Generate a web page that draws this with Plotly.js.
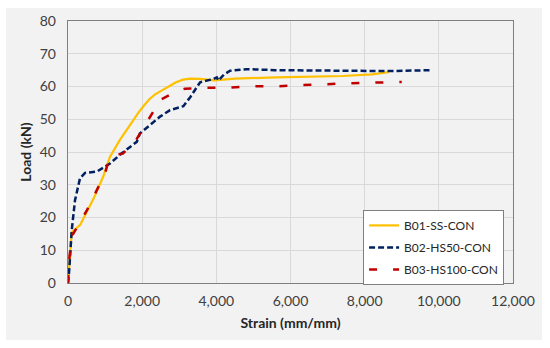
<!DOCTYPE html>
<html><head><meta charset="utf-8">
<script src="https://cdn.plot.ly/plotly-3.0.1.min.js"></script>
<style>
html,body{margin:0;padding:0;background:#fff;}
#wrap{position:relative;width:550px;height:348px;background:#fff;}
#bg{position:absolute;left:6px;top:8px;width:536px;height:332px;background:#f2f2f2;}
#chart{position:absolute;left:0;top:0;width:550px;height:348px;}
</style></head>
<body><div id="wrap"><div id="bg"></div><div id="chart"></div></div>
<script>
const b01Strain = [0, 30, 60, 100, 330, 700, 950, 1130, 1400, 1700, 1900, 2050, 2200, 2350, 2500, 2700, 2900, 3100, 3300, 3550, 3950, 4500, 5600, 7400, 8200, 8650];
const b01Load   = [0, 5, 10, 15.5, 17.8, 26, 32.5, 38.5, 43.7, 48.8, 52, 54.2, 56.2, 57.6, 58.6, 59.9, 61.2, 62.1, 62.4, 62.3, 61.9, 62.4, 62.8, 63.2, 63.7, 64.4];
const b02Strain = [0, 27, 100, 189, 324, 459, 774, 1044, 1133, 1449, 1854, 1943, 2482, 2752, 3000, 3111, 3300, 3562, 3922, 4012, 4057, 4200, 4371, 4820, 5585, 7000, 8635, 9813];
const b02Load   = [0, 3, 16, 25.3, 32, 33.6, 34, 36, 36.5, 39.6, 43.1, 45.7, 50.8, 52.8, 53.6, 54, 56.8, 61.3, 62.3, 62.8, 61.8, 63.6, 64.8, 65.3, 65, 64.8, 64.7, 65];
const b03Strain = [0, 40, 100, 150, 500, 1000, 1100, 1250, 1480, 1800, 2120, 2500, 2950, 3150, 3650, 4350, 5100, 5700, 6300, 7000, 7650, 8300, 9000];
const b03Load   = [0, 8, 14.5, 15.2, 22, 33.5, 37.5, 39.2, 39.5, 43, 49, 56, 58.7, 59.3, 59.6, 59.7, 60.1, 60.1, 60.4, 60.6, 61, 61.2, 61.4];
const names = ["B01-SS-CON", "B02-HS50-CON", "B03-HS100-CON"];
const xTicks = [0, 2000, 4000, 6000, 8000, 10000, 12000];
const xTickText = ["0", "2,000", "4,000", "6,000", "8,000", "10,000", "12,000"];
const yTicks = [0, 10, 20, 30, 40, 50, 60, 70, 80];

const font = "Lato, 'Open Sans', sans-serif";
const traces = [
  {x: b01Strain, y: b01Load, name: names[0], legendgroup: "a", mode: "lines", line: {color: "#FFC000", width: 2.2}},
  {x: b02Strain, y: b02Load, name: names[1], legendgroup: "b", mode: "lines", line: {color: "#002060", width: 2.5, dash: "6px,3px"}},
  {x: b03Strain, y: b03Load, name: names[2], legendgroup: "c", mode: "lines", line: {color: "#C00000", width: 2.5, dash: "8px,16px"}}
];
const layout = {
  width: 550, height: 348,
  margin: {l: 68, r: 37, t: 21, b: 65},
  paper_bgcolor: "rgba(0,0,0,0)",
  plot_bgcolor: "#f2f2f2",
  font: {family: font, color: "#404040", size: 14},
  showlegend: true,
  legend: {x: 0.98, y: 0.279, xanchor: "right", yanchor: "top", bgcolor: "#ffffff",
           bordercolor: "#7f7f7f", borderwidth: 1, tracegroupgap: 3,
           font: {size: 12, color: "#262626"}},
  xaxis: {range: [0, 12000], tickvals: xTicks, ticktext: xTickText, showgrid: true,
          gridcolor: "#d9d9d9", gridwidth: 1, zeroline: false, showline: true, mirror: true,
          linecolor: "#7f7f7f", linewidth: 1.3, ticks: "", ticklabelstandoff: 5,
          title: {text: "<b>Strain (mm/mm)</b>", font: {size: 14, color: "#262626"}, standoff: 10}},
  yaxis: {range: [0, 80], tickvals: yTicks, showgrid: true, gridcolor: "#d9d9d9", gridwidth: 1,
          zeroline: false, showline: true, mirror: true, linecolor: "#7f7f7f", linewidth: 1.3,
          ticks: "", ticklabelstandoff: 8,
          title: {text: "<b>Load (kN)</b>", font: {size: 14, color: "#262626"}, standoff: 4}}
};
Plotly.newPlot("chart", traces, layout, {displayModeBar: false, staticPlot: true});
</script></body></html>
